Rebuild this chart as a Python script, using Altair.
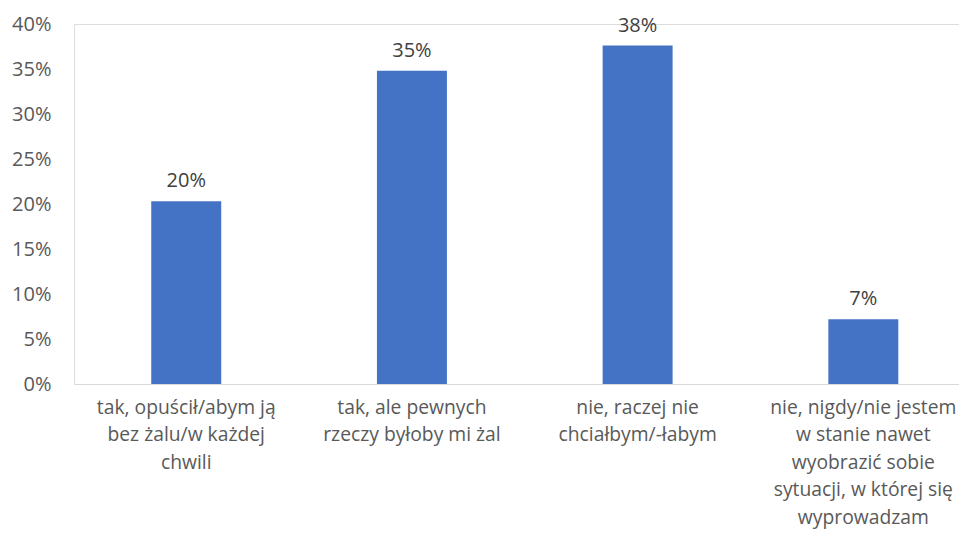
import altair as alt
import pandas as pd

categories = [
    "tak, opuścił/abym ją\nbez żalu/w każdej\nchwili",
    "tak, ale pewnych\nrzeczy byłoby mi żal",
    "nie, raczej nie\nchciałbym/-łabym",
    "nie, nigdy/nie jestem\nw stanie nawet\nwyobrazić sobie\nsytuacji, w której się\nwyprowadzam",
]
values = [0.203, 0.348, 0.376, 0.072]
y_ticks = [0, 0.05, 0.10, 0.15, 0.20, 0.25, 0.30, 0.35, 0.40]

df = pd.DataFrame({"cat": categories, "val": values})

FONT = "Open Sans"
FS = 20

x_enc = alt.X(
    "cat:N",
    sort=None,
    scale=alt.Scale(paddingInner=0.69, paddingOuter=0.3056, align=0.56),
    axis=alt.Axis(
        title=None,
        labelAngle=0,
        labelExpr="split(datum.label, '\\n')",
        labelFont=FONT,
        labelFontSize=19.3,
        labelColor="#595959",
        labelLineHeight=27.5,
        labelPadding=14,
        labelBaseline="top",
        ticks=False,
        domainColor="#D9D9D9",
        domainWidth=1.2,
        labelLimit=400,
    ),
)

y_enc = alt.Y(
    "val:Q",
    scale=alt.Scale(domain=[0, 0.40], nice=False),
    axis=alt.Axis(
        title=None,
        values=y_ticks,
        format=".0%",
        grid=False,
        domain=False,
        ticks=False,
        labelFont=FONT,
        labelFontSize=FS,
        labelColor="#595959",
        labelPadding=23,
    ),
)

bars = alt.Chart(df).mark_bar(color="#4472C4").encode(x=x_enc, y=y_enc)

labels = alt.Chart(df).mark_text(
    font=FONT, fontSize=FS, color="#404040", baseline="middle", dy=-20
).encode(
    x=alt.X("cat:N", sort=None),
    y="val:Q",
    text=alt.Text("val:Q", format=".0%"),
)

chart = (
    alt.layer(bars, labels)
    .properties(
        width=885,
        height=360,
        autosize=alt.AutoSizeParams(type="none"),
        padding={"left": 66, "top": 16, "right": 0, "bottom": 150},
    )
    .configure_view(stroke=None)
    .configure(background="white")
)

chart.save("out.html", embed_options={"renderer": "svg", "actions": False})
